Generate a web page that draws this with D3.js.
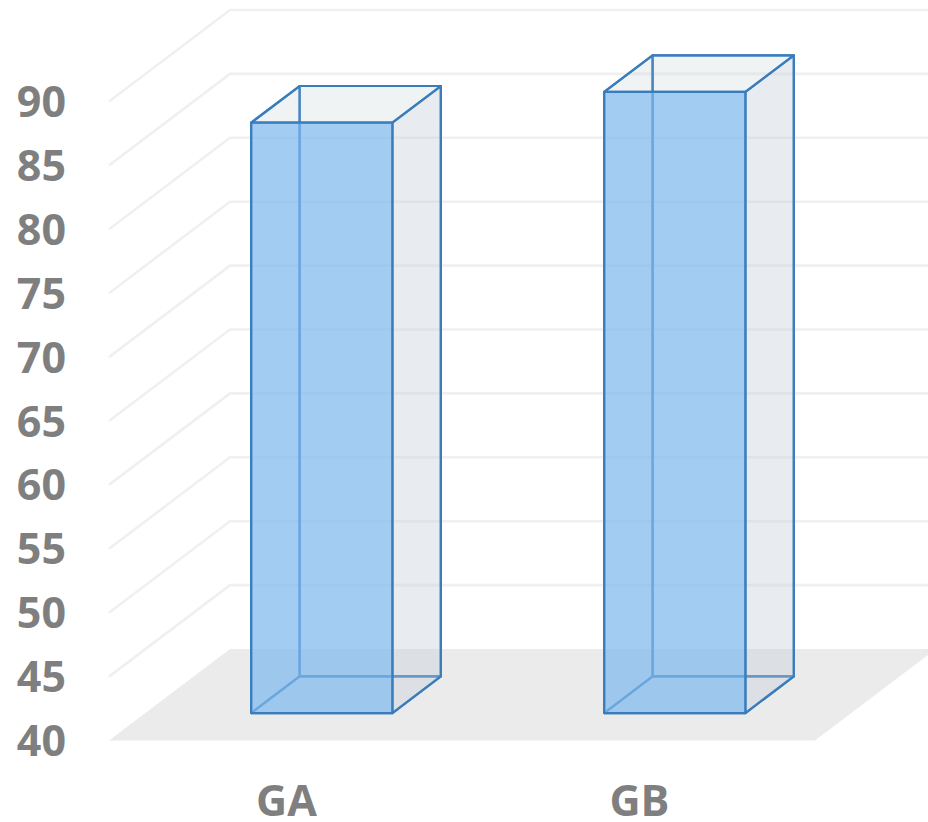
<!DOCTYPE html>
<html>
<head>
<meta charset="utf-8">
<script src="https://cdn.jsdelivr.net/npm/d3@7"></script>
<style>
html,body{margin:0;padding:0;background:#fff;}
svg{display:block;}
text{font-family:"Open Sans",sans-serif;font-weight:700;fill:#7f7f7f;}
</style>
</head>
<body>
<svg id="chart" width="928" height="822"></svg>
<script>
const categories = ["GA", "GB"];
const values = [86.2, 88.6];
const tickValues = [40, 45, 50, 55, 60, 65, 70, 75, 80, 85, 90];
const barDepthRange = [0.3, 0.7];

const svg = d3.select("#chart");

// Front plane of the 3D box; depth is a shear towards the upper right.
const x = d3.scaleBand().domain(categories).range([109, 815]).paddingInner(0.6).paddingOuter(0.3);
const xOuter = d3.scaleBand().domain(categories).range([109, 815]);
const y = d3.scaleLinear().domain([40, 90]).range([740.5, 101.5]);
const depthX = d3.scaleLinear().domain([0, 1]).range([0, 121]);
const depthY = d3.scaleLinear().domain([0, 1]).range([0, -91.5]);

const project = (px, value, depth) => [px + depthX(depth), y(value) + depthY(depth)];
const poly = d3.line();

// Floor
svg.append("path")
  .attr("d", poly([
    project(109, 40, 0), project(815, 40, 0),
    project(815, 40, 1), project(109, 40, 1)
  ]) + "Z")
  .attr("fill", "#ebebeb");

// Gridlines run up the left wall and along the back wall
svg.append("g").selectAll("path")
  .data(tickValues.filter(t => t > 40))
  .join("path")
  .attr("d", t => poly([project(109, t, 0), project(109, t, 1), [928, y(t) + depthY(1)]]))
  .attr("fill", "none")
  .attr("stroke", "#f0f0f0")
  .attr("stroke-width", 2.6);

// Value axis labels
svg.append("g").selectAll("text")
  .data(tickValues)
  .join("text")
  .attr("x", 66)
  .attr("y", t => y(t) + 15.5)
  .attr("text-anchor", "end")
  .attr("font-size", 43)
  .text(t => t);

// Category labels
svg.append("g").selectAll("text")
  .data(categories)
  .join("text")
  .attr("x", c => xOuter(c) + xOuter.bandwidth() / 2 + 1)
  .attr("y", 816)
  .attr("text-anchor", "middle")
  .attr("font-size", 43)
  .text(c => c);

// Each bar is a translucent box, painted from its back faces to its front
const [dNear, dFar] = barDepthRange;
const bars = svg.append("g").selectAll("g")
  .data(categories.map((c, i) => ({ c, v: values[i] })))
  .join("g");

const faces = [
  { name: "back", fill: "#c9d2db", opacity: 0.19, pts: (l, r, v) => [project(l, 40, dFar), project(r, 40, dFar), project(r, v, dFar), project(l, v, dFar)] },
  { name: "left", fill: "#c9d2db", opacity: 0.19, pts: (l, r, v) => [project(l, 40, dNear), project(l, 40, dFar), project(l, v, dFar), project(l, v, dNear)] },
  { name: "bottom", fill: "#c9d2db", opacity: 0.19, pts: (l, r, v) => [project(l, 40, dNear), project(r, 40, dNear), project(r, 40, dFar), project(l, 40, dFar)] },
  { name: "right", fill: "#c9d2db", opacity: 0.3, pts: (l, r, v) => [project(r, 40, dNear), project(r, 40, dFar), project(r, v, dFar), project(r, v, dNear)] },
  { name: "top", fill: "#c9d2db", opacity: 0.12, pts: (l, r, v) => [project(l, v, dNear), project(r, v, dNear), project(r, v, dFar), project(l, v, dFar)] },
  { name: "front", fill: "#7fb9ee", opacity: 0.7, pts: (l, r, v) => [project(l, 40, dNear), project(r, 40, dNear), project(r, v, dNear), project(l, v, dNear)] }
];

bars.each(function (d) {
  const l = x(d.c), r = l + x.bandwidth();
  d3.select(this).selectAll("path")
    .data(faces)
    .join("path")
    .attr("d", f => poly(f.pts(l, r, d.v)) + "Z")
    .attr("fill", f => f.fill)
    .attr("fill-opacity", f => f.opacity)
    .attr("stroke", "#3a7dbd")
    .attr("stroke-width", 2.2)
    .attr("stroke-linejoin", "round");
});
</script>
</body>
</html>
